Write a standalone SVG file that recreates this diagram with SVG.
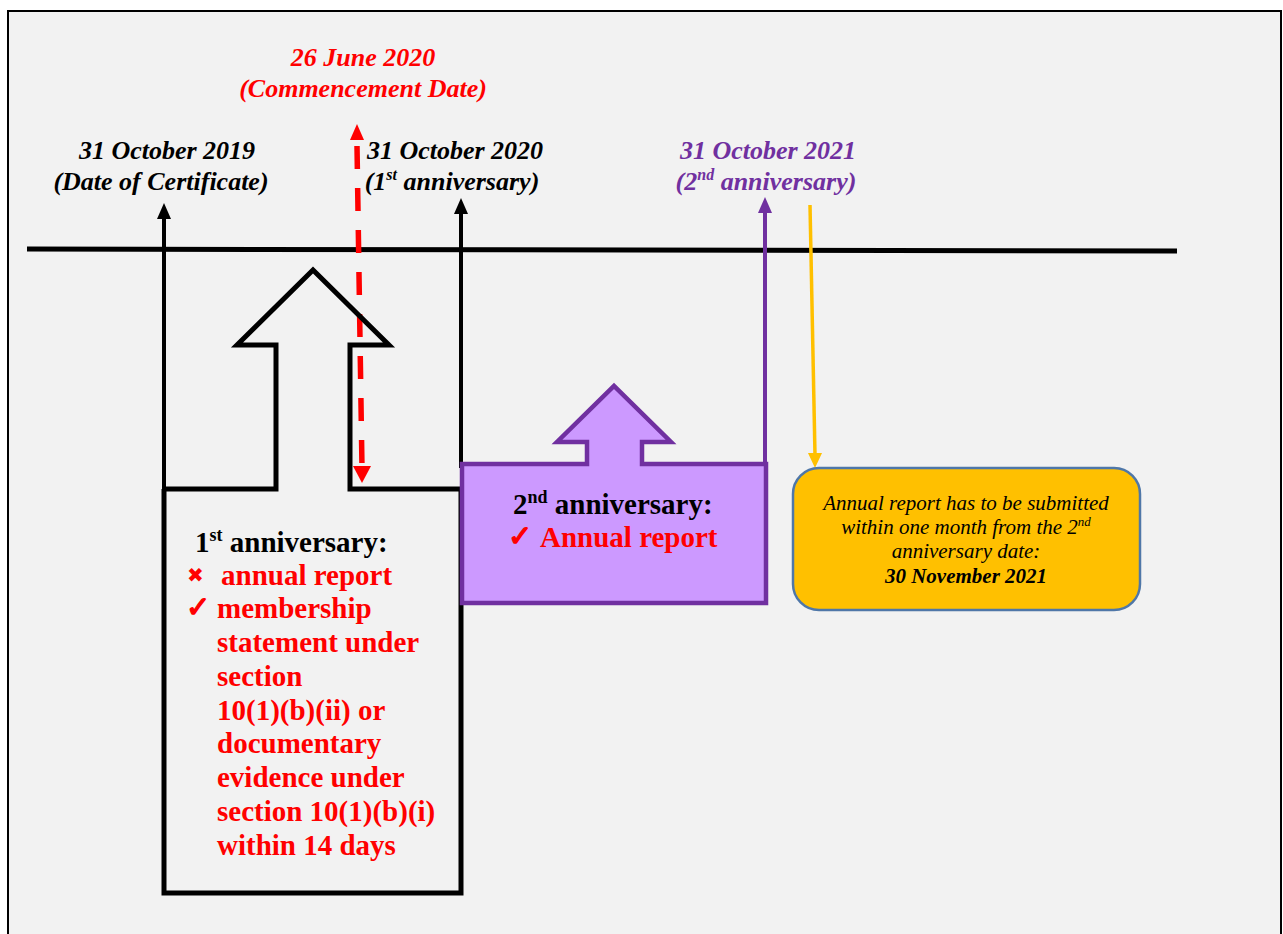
<svg xmlns="http://www.w3.org/2000/svg" width="1283" height="934" viewBox="0 0 1283 934">
<defs>
<style>
.date{font-family:"Liberation Serif","Times New Roman",serif;font-weight:bold;font-style:italic;font-size:26px;text-anchor:middle}
.big{font-family:"Liberation Serif","Times New Roman",serif;font-weight:bold;font-size:29px}
.note{font-family:"Liberation Serif","Times New Roman",serif;font-style:italic;font-size:21px;text-anchor:middle;fill:#000}
.sym{font-family:"DejaVu Sans",sans-serif;fill:#ff0000}
.chk{stroke:#ff0000;stroke-width:1.4}
.red{fill:#ff0000}
.blk{fill:#000}
.pur{fill:#7030a0}
</style>
</defs>
<rect x="0" y="0" width="1283" height="934" fill="#ffffff"/>
<rect id="frame" x="8" y="11" width="1273" height="930" fill="#f2f2f2" stroke="#000" stroke-width="2"/>

<g id="connectors">
<line id="timeline" x1="27" y1="249" x2="1177" y2="251" stroke="#000" stroke-width="5"/>
<line x1="164" y1="218" x2="164" y2="500" stroke="#000" stroke-width="4"/>
<polygon points="157,219 164,203 171,219" fill="#000"/>
<line x1="461" y1="213" x2="461" y2="468" stroke="#000" stroke-width="4"/>
<polygon points="454,214 461,198 468,214" fill="#000"/>
<line x1="765" y1="212" x2="765" y2="464" stroke="#7030a0" stroke-width="4"/>
<polygon points="758,213 765,197 772,213" fill="#7030a0"/>
<line x1="810" y1="205" x2="815" y2="455" stroke="#ffc000" stroke-width="3.5"/>
<polygon points="808,453 822,453 815,468" fill="#ffc000"/>
<line x1="357" y1="146" x2="362" y2="468" stroke="#ff0000" stroke-width="5.5" stroke-dasharray="23 19"/>
<polygon points="350,140 357,124 364,140" fill="#ff0000"/>
<polygon points="353,466 371,466 362,483" fill="#ff0000"/>
</g>

<g id="first-anniversary">
<path d="M164,489 L276,489 L276,345 L237,345 L313,270 L389,345 L350,345 L350,489 L461,489" fill="none" stroke="#000" stroke-width="5"/>
<path d="M164,489 L164,893 L461,893 L461,489" fill="none" stroke="#000" stroke-width="5"/>
<text class="big blk" x="195" y="552">1<tspan font-size="18" dy="-11">st</tspan><tspan dy="11"> anniversary:</tspan></text>
<text class="sym" x="187" y="582" font-size="20">✖</text>
<text class="big red" x="221" y="585">annual report</text>
<text class="sym chk" x="186" y="617" font-size="29">✓</text>
<text class="big red" x="217" y="618">membership</text>
<text class="big red" x="217" y="652">statement under</text>
<text class="big red" x="217" y="686">section</text>
<text class="big red" x="217" y="720">10(1)(b)(ii) or</text>
<text class="big red" x="217" y="753">documentary</text>
<text class="big red" x="217" y="787">evidence under</text>
<text class="big red" x="217" y="821">section 10(1)(b)(i)</text>
<text class="big red" x="217" y="855">within 14 days</text>
</g>

<g id="second-anniversary">
<path d="M462,464 L587,464 L587,442 L557,442 L614,386 L671,442 L642,442 L642,464 L766,464 L766,603 L462,603 Z" fill="#cc99ff" stroke="#7030a0" stroke-width="4.5" stroke-linejoin="miter"/>
<text class="big blk" x="513" y="514">2<tspan font-size="18" dy="-11">nd</tspan><tspan dy="11"> anniversary:</tspan></text>
<text class="sym chk" x="508" y="546" font-size="29">✓</text>
<text class="big red" x="540" y="547">Annual report</text>
</g>

<g id="deadline-note">
<rect x="793" y="468" width="347" height="142" rx="26" ry="26" fill="#ffc000" stroke="#4f77a8" stroke-width="2.5"/>
<text class="note" x="966" y="510">Annual report has to be submitted</text>
<text class="note" x="966" y="534">within one month from the 2<tspan font-size="13" dy="-8">nd</tspan></text>
<text class="note" x="966" y="558">anniversary date:</text>
<text class="note" x="966" y="583" font-weight="bold">30 November 2021</text>
</g>

<g id="label-commencement">
<text class="date red" x="363" y="66">26 June 2020</text>
<text class="date red" x="363" y="97">(Commencement Date)</text>
</g>
<g id="label-2019">
<text class="date blk" x="167" y="159">31 October 2019</text>
<text class="date blk" x="161" y="190">(Date of Certificate)</text>
</g>
<g id="label-2020">
<text class="date blk" x="455" y="159">31 October 2020</text>
<text class="date blk" x="452" y="190">(1<tspan font-size="16" dy="-10">st</tspan><tspan dy="10"> anniversary)</tspan></text>
</g>
<g id="label-2021">
<text class="date pur" x="768" y="159">31 October 2021</text>
<text class="date pur" x="766" y="190">(2<tspan font-size="16" dy="-10">nd</tspan><tspan dy="10"> anniversary)</tspan></text>
</g>
</svg>
